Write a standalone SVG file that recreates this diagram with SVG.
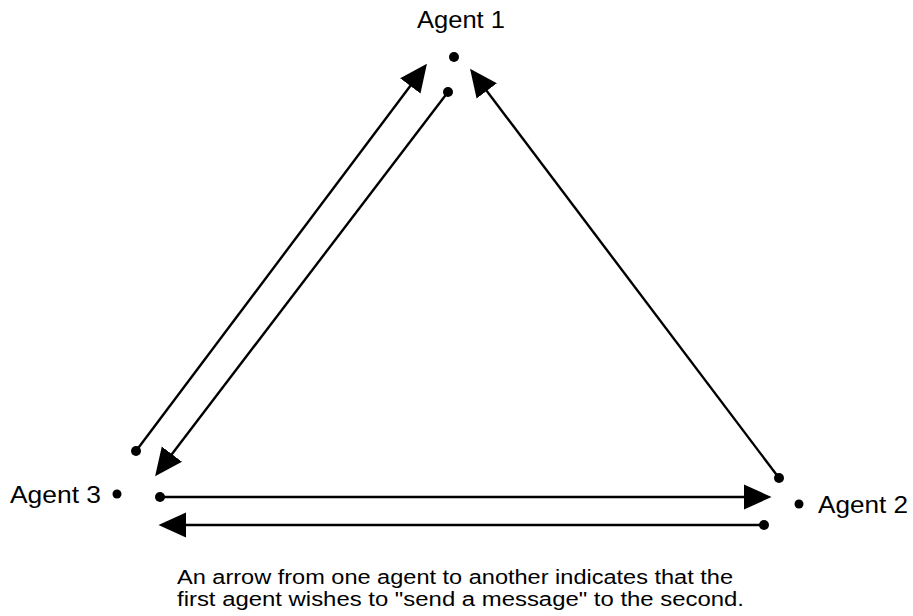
<svg xmlns="http://www.w3.org/2000/svg" width="913" height="616" viewBox="0 0 913 616">
<style>
.lbl{font-family:"Liberation Sans",Arial,sans-serif;font-size:24px;fill:#000}
.cap{font-family:"Liberation Sans",Arial,sans-serif;font-size:20px;fill:#000}
.con{stroke:#000;stroke-width:2.4;fill:none;marker-end:url(#ah)}
.dot{fill:#000}
</style>
<defs>
<marker id="ah" markerUnits="userSpaceOnUse" markerWidth="30" markerHeight="30" viewBox="0 -12 26 24" refX="14" refY="0" orient="auto">
<path d="M0,-11 L24,0 L0,11 z" fill="#000"/>
</marker>
</defs>
<rect width="913" height="616" fill="#fff"/>
<g id="agent1">
<text class="lbl" x="417" y="28" textLength="88" lengthAdjust="spacingAndGlyphs">Agent 1</text>
<circle class="dot" cx="454" cy="57" r="5"/>
</g>
<g id="agent2">
<circle class="dot" cx="799" cy="504" r="4.5"/>
<text class="lbl" x="818" y="513" textLength="90" lengthAdjust="spacingAndGlyphs">Agent 2</text>
</g>
<g id="agent3">
<text class="lbl" x="10" y="503" textLength="91" lengthAdjust="spacingAndGlyphs">Agent 3</text>
<circle class="dot" cx="117" cy="494" r="4.5"/>
</g>
<g id="connectors">
<line class="con" x1="136" y1="451" x2="420" y2="73"/>
<circle class="dot" cx="136" cy="451" r="5"/>
<line class="con" x1="448" y1="92" x2="162.1" y2="467"/>
<circle class="dot" cx="448" cy="92" r="5"/>
<line class="con" x1="779" y1="478" x2="477" y2="78"/>
<circle class="dot" cx="779" cy="478" r="5"/>
<line class="con" x1="160" y1="497" x2="760" y2="497"/>
<circle class="dot" cx="160" cy="497" r="5"/>
<line class="con" x1="764" y1="525" x2="170" y2="525"/>
<circle class="dot" cx="764" cy="525" r="5"/>
</g>
<g id="caption">
<text class="cap" x="177" y="584" textLength="556" lengthAdjust="spacingAndGlyphs">An arrow from one agent to another indicates that the</text>
<text class="cap" x="177" y="606" textLength="567" lengthAdjust="spacingAndGlyphs">first agent wishes to "send a message" to the second.</text>
</g>
</svg>
